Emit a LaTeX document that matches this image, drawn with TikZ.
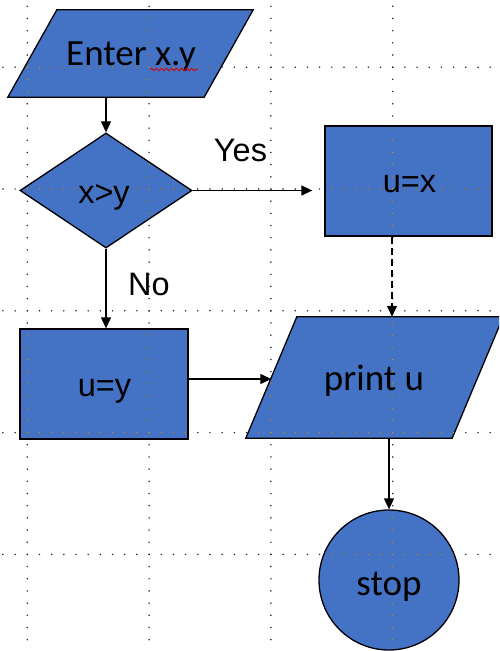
\documentclass[tikz,border=0pt]{standalone}
\usepackage{fontspec}
\setmainfont{Carlito}
\newfontfamily\arialfont{Liberation Sans}
\usetikzlibrary{shapes.geometric,arrows.meta,decorations.pathmorphing}

\definecolor{boxblue}{HTML}{4472C4}
\definecolor{dotgold}{RGB}{190,150,80}

% dotted guide grid: lines every 121.8, dots every 12.18
\newcommand\griddots[1]{%
  \foreach \j in {0,...,4}
    \foreach \k in {-2,...,39}
      \fill[#1] ({27.3+12.18*\k},{67.2+121.8*\j}) circle (0.85pt);
  \foreach \i in {0,...,3}
    \foreach \k in {-5,...,48}
      \fill[#1] ({27.3+121.8*\i},{67.2+12.18*\k}) circle (0.85pt);
}

\tikzset{
  blockfill/.style={fill=boxblue, draw=black, line width=1.3pt},
  ghost/.style={draw=none, inner sep=0pt},
  conn/.style={-{Triangle[length=11pt,width=10pt]}, line width=1.2pt},
  dashconn/.style={conn, dash pattern=on 7pt off 4pt},
  calib/.style={font=\fontsize{37}{40}\selectfont, anchor=base, inner sep=0pt},
  arial/.style={font=\arialfont\fontsize{32.5}{36}\selectfont, anchor=base, inner sep=0pt},
}

\begin{document}
\begin{tikzpicture}[x=1pt, y=-1pt]
\useasboundingbox (0,0) rectangle (499,651);
\clip (0,0) rectangle (499,651);

% frames of the two parallelograms (size at mid height)
\node[ghost, minimum width=196pt, minimum height=87pt] (enter) at (130.5,53.5) {};
\node[ghost, minimum width=206pt, minimum height=121pt] (print) at (374.5,377.5) {};

% shapes
\draw[blockfill] ([xshift=24.5pt]enter.north west) -- ([xshift=24.5pt]enter.north east)
  -- ([xshift=-24.5pt]enter.south east) -- ([xshift=-24.5pt]enter.south west) -- cycle;
\node[blockfill, diamond, minimum width=172pt, minimum height=115pt, inner sep=0pt] (dec) at (106,190.5) {};
\node[blockfill, rectangle, minimum width=167pt, minimum height=110pt] (ux) at (408.5,181) {};
\node[blockfill, rectangle, minimum width=168pt, minimum height=110pt] (uy) at (104,384) {};
\draw[blockfill] ([xshift=25.5pt]print.north west) -- ([xshift=25.5pt]print.north east)
  -- ([xshift=-25.5pt]print.south east) -- ([xshift=-25.5pt]print.south west) -- cycle;
\node[blockfill, circle, minimum size=140pt, inner sep=0pt] (stop) at (389,580) {};

% guide dots, tinted where they cross a shape
\griddots{black!85}
\begin{scope}
  \clip ([xshift=24.5pt]enter.north west) -- ([xshift=24.5pt]enter.north east)
    -- ([xshift=-24.5pt]enter.south east) -- ([xshift=-24.5pt]enter.south west) -- cycle;
  \griddots{dotgold}
\end{scope}
\begin{scope}
  \clip (dec.north) -- (dec.east) -- (dec.south) -- (dec.west) -- cycle;
  \griddots{dotgold}
\end{scope}
\begin{scope}
  \clip ([shift={(1pt,1pt)}]ux.south west) rectangle ([shift={(-1pt,-1pt)}]ux.north east);
  \griddots{dotgold}
\end{scope}
\begin{scope}
  \clip ([shift={(1pt,1pt)}]uy.south west) rectangle ([shift={(-1pt,-1pt)}]uy.north east);
  \griddots{dotgold}
\end{scope}
\begin{scope}
  \clip ([xshift=25.5pt]print.north west) -- ([xshift=25.5pt]print.north east)
    -- ([xshift=-25.5pt]print.south east) -- ([xshift=-25.5pt]print.south west) -- cycle;
  \griddots{dotgold}
\end{scope}
\begin{scope}
  \clip (stop.center) circle (69pt);
  \griddots{dotgold}
\end{scope}

% texts
\node[calib] (tenter) at (131,65.5) {Enter x.y};
\draw[red!85!black, line width=0.8pt, decorate,
      decoration={snake, amplitude=1.3pt, segment length=5pt}] (tenter.base east) ++(-46pt,-4pt) -- ++(48pt,0);
\node[arial] (tdec) at (104,203) {x>y};
\node[arial] (tux) at (409.5,192.5) {u=x};
\node[arial] (tuy) at (104.5,396.5) {u=y};
\node[calib] (tprint) at (374,390.5) {print u};
\node[calib] (tstop) at (389,595) {stop};
\node[arial] (tyes) at (240.5,161) {Yes};
\node[arial] (tno) at (149,295) {No};

% connectors
\coordinate (dashx) at (392,0);
\draw[conn] (enter.south -| dec.north) -- (dec.north);
\draw[conn] (dec.east) -- ([xshift=-12pt]ux.west |- dec.east);
\draw[dashconn] (ux.south -| dashx) -- (print.north -| dashx);
\draw[conn] (dec.south) -- (dec.south |- uy.north);
\draw[conn] ([yshift=5pt]uy.east) -- ([yshift=5pt]uy.east -| print.west);
\draw[conn] (print.south -| stop.north) -- (stop.north);
\end{tikzpicture}
\end{document}
